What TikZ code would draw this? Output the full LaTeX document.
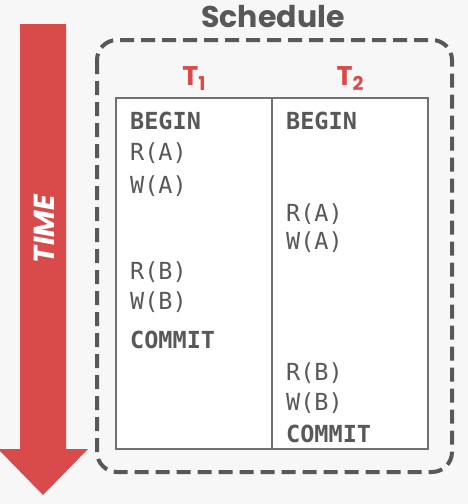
\documentclass[tikz,border=0pt]{standalone}
\usepackage{fontspec}
\setmainfont{Poppins}
\setmonofont{DejaVu Sans Mono}
\usetikzlibrary{positioning}
\definecolor{tred}{RGB}{217,75,75}
\definecolor{tgray}{RGB}{88,88,88}
\definecolor{bgray}{RGB}{247,247,247}
\newcommand{\tsub}[1]{\raisebox{-5pt}{\fontsize{19}{19}\selectfont#1}}
\begin{document}
\begin{tikzpicture}[x=1pt,y=-1pt,
    op/.style={anchor=base west,inner sep=0pt,text=tgray,font=\ttfamily\fontsize{23.5}{23.5}\selectfont},
    cmd/.style={op,font=\ttfamily\bfseries\fontsize{23.5}{23.5}\selectfont},
    col/.style={draw=tgray!85,line width=1.2pt,fill=white,minimum width=156pt,minimum height=351pt,inner sep=0pt},
    txn/.style={anchor=base,inner sep=0pt,text=tred,font=\bfseries\fontsize{27}{27}\selectfont}]
    \fill[bgray] (0,0) rectangle (468,504);
    \useasboundingbox (0,0) rectangle (468,504);

    % time arrow
    \fill[tred] (20,24) -- (66,24) -- (66,449) -- (88,449) -- (43,495) -- (-2,449) -- (20,449) -- cycle;
    \node (time) at (44,229) [rotate=90,text=white,font=\bfseries\itshape\fontsize{29}{29}\selectfont] {TIME};

    % schedule
    \draw[tgray,line width=4pt,dash pattern=on 14pt off 7pt,rounded corners=20pt] (97,40) rectangle (452,472);
    \node (title) at (273,17) [text=tgray,font=\bfseries\fontsize{30}{30}\selectfont] {Schedule};
    \node (col1) at (194,273.5) [col] {};
    \node (col2) at (350,273.5) [col] {};
    \node (T1) at (194,85) [txn] {T\tsub{1}};
    \node (T2) at (350,85) [txn] {T\tsub{2}};

    % T1 operations
    \node (b1) at (130,129.5) [cmd] {BEGIN};
    \node (r1a) at (130,160.5) [op] {R(A)};
    \node (w1a) at (130,193) [op] {W(A)};
    \node (r1b) at (130,279) [op] {R(B)};
    \node (w1b) at (130,309) [op] {W(B)};
    \node (c1) at (130,348.5) [cmd] {COMMIT};

    % T2 operations
    \node (b2) at (286,129.5) [cmd] {BEGIN};
    \node (r2a) at (286,221) [op] {R(A)};
    \node (w2a) at (286,249) [op] {W(A)};
    \node (r2b) at (286,380) [op] {R(B)};
    \node (w2b) at (286,410) [op] {W(B)};
    \node (c2) at (286,442.5) [cmd] {COMMIT};
\end{tikzpicture}
\end{document}
